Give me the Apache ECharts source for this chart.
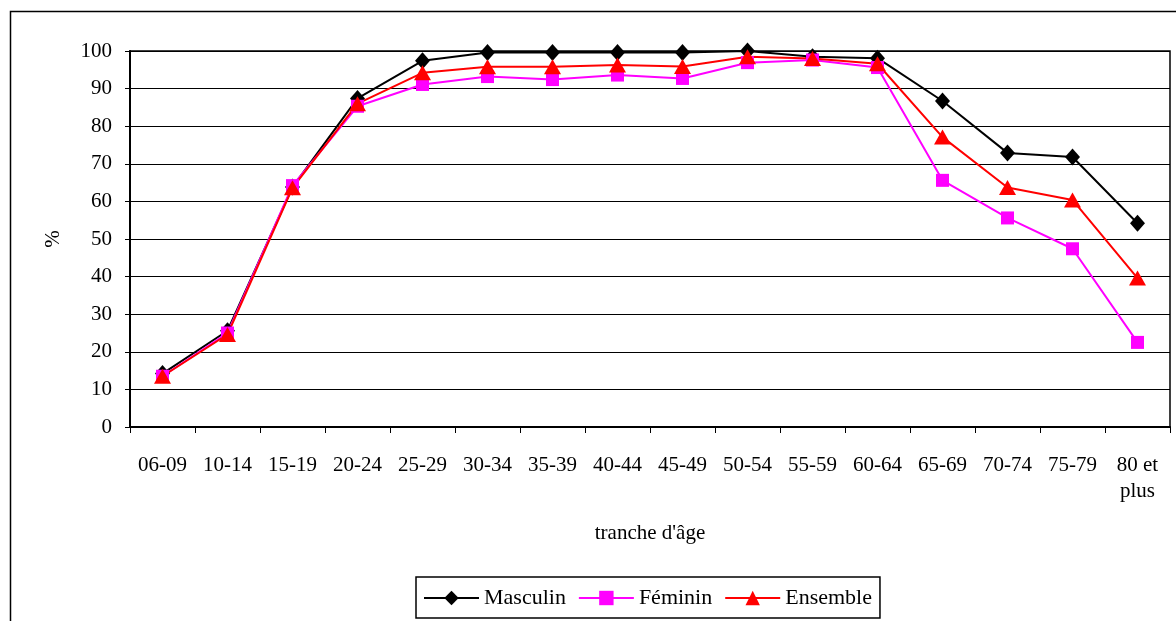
<!DOCTYPE html>
<html>
<head>
<meta charset="utf-8">
<script src="https://cdn.jsdelivr.net/npm/echarts@6/dist/echarts.min.js"></script>
<style>
html,body{margin:0;padding:0;background:#fff;}
#c{width:1176px;height:621px;}
</style>
</head>
<body>
<div id="c"></div>
<script>
const categories = ["06-09","10-14","15-19","20-24","25-29","30-34","35-39","40-44","45-49","50-54","55-59","60-64","65-69","70-74","75-79","80 et\nplus"];
const masculin = [14.2,25.6,63.8,87.4,97.4,99.6,99.6,99.6,99.6,100,98.5,98.1,86.7,72.9,71.8,54.2];
const feminin  = [13.5,25.0,64.2,85.3,91.1,93.2,92.4,93.6,92.7,96.9,97.6,95.6,65.6,55.6,47.4,22.5];
const ensemble = [13.5,24.6,63.6,86.0,94.2,95.8,95.8,96.3,95.9,98.5,98.0,96.6,77.1,63.7,60.4,39.6];
const yTicks = {min:0, max:100, interval:10};

const FONT = "Liberation Serif";
const chart = echarts.init(document.getElementById('c'), null, {renderer:'canvas'});
chart.setOption({
  animation:false,
  backgroundColor:'#fff',
  textStyle:{fontFamily:FONT, color:'#000'},
  graphic:[{type:'rect', shape:{x:10.5,y:11.5,width:1300,height:800}, style:{fill:null, stroke:'#000', lineWidth:1.5}, silent:true, z:-1}],
  grid:{left:130, top:51, right:6, bottom:194, show:true, borderColor:'#000', borderWidth:1.5, backgroundColor:'transparent'},
  legend:{
    left:416, top:577,
    orient:'horizontal',
    borderColor:'#000', borderWidth:1.5,
    padding:[10,8,9,7],
    itemWidth:55, itemHeight:18, itemGap:12,
    textStyle:{fontFamily:FONT, fontSize:22, color:'#000', padding:[0,0,0,0]},
    data:['Masculin','Féminin','Ensemble']
  },
  xAxis:{
    type:'category', data:categories, boundaryGap:true,
    name:"tranche d'âge", nameLocation:'middle', nameGap:96,
    nameTextStyle:{fontFamily:FONT, fontSize:21, color:'#000'},
    axisLine:{lineStyle:{color:'#000', width:2}},
    axisTick:{show:true, alignWithLabel:false, length:6, lineStyle:{color:'#000', width:1}},
    axisLabel:{fontFamily:FONT, fontSize:21, color:'#000', margin:25, interval:0, lineHeight:26},
    splitLine:{show:false}
  },
  yAxis:{
    type:'value', min:yTicks.min, max:yTicks.max, interval:yTicks.interval,
    name:'%', nameLocation:'middle', nameGap:66,
    nameTextStyle:{fontFamily:FONT, fontSize:21, color:'#000'},
    axisLine:{show:true, lineStyle:{color:'#000', width:2}},
    axisTick:{show:true, length:5, lineStyle:{color:'#000', width:1}},
    axisLabel:{fontFamily:FONT, fontSize:21, color:'#000', margin:18},
    splitLine:{show:true, lineStyle:{color:'#000', width:1}}
  },
  series:[
    {name:'Masculin', type:'line', data:masculin, symbol:'diamond', symbolSize:[15,17],
     lineStyle:{color:'#000', width:2}, itemStyle:{color:'#000'}},
    {name:'Féminin', type:'line', data:feminin, symbol:'rect', symbolSize:13,
     lineStyle:{color:'#FF00FF', width:2}, itemStyle:{color:'#FF00FF'}},
    {name:'Ensemble', type:'line', data:ensemble, symbol:'triangle', symbolSize:[17,15],
     lineStyle:{color:'#FF0000', width:2}, itemStyle:{color:'#FF0000'}}
  ]
});
</script>
</body>
</html>
